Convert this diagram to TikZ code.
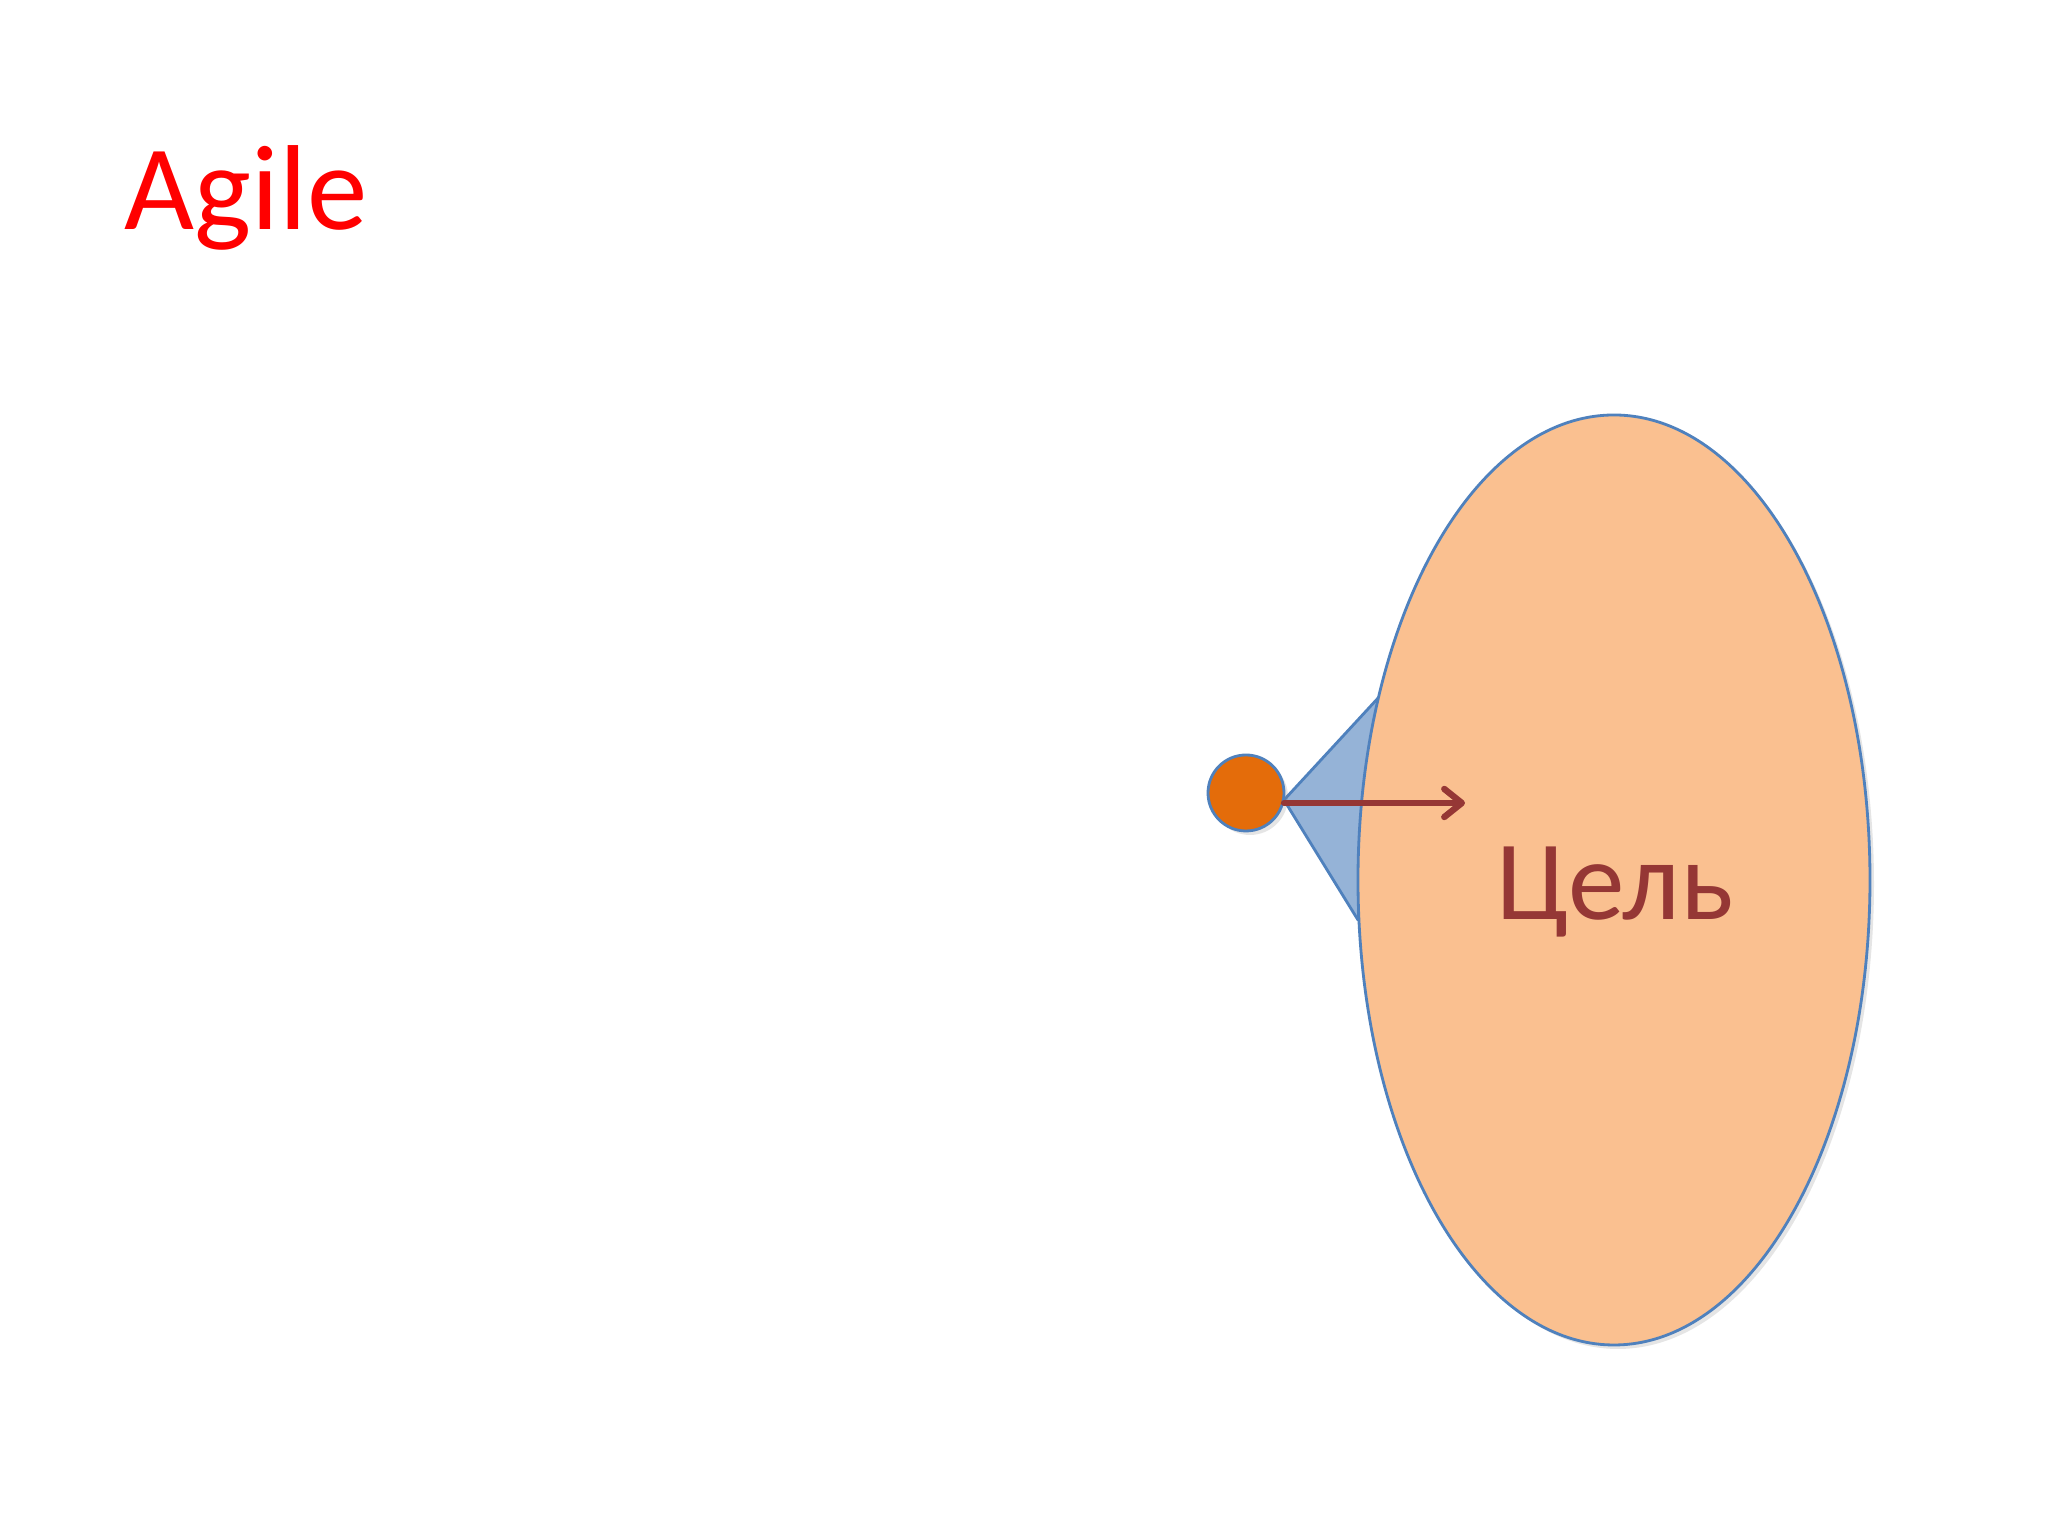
\documentclass[tikz,border=0pt]{standalone}
\usepackage{fontspec}
\setmainfont{Carlito}
\usetikzlibrary{shadows, shapes.geometric, arrows.meta}
\definecolor{goalfill}{HTML}{FAC090}
\definecolor{goalline}{HTML}{4F81BD}
\definecolor{conefill}{HTML}{95B3D7}
\definecolor{dotfill}{HTML}{E46C0A}
\definecolor{goaltext}{HTML}{953735}
\tikzset{
	softshadow/.style={drop shadow={opacity=0.2, shadow xshift=0.04, shadow yshift=-0.04}},
}

\begin{document}
\begin{tikzpicture}
			\useasboundingbox[fill=white] (0, 0) rectangle (20.48, 15.36);
			\node[anchor=base west, inner sep=0, text=red, font=\fontsize{34.4}{40}\selectfont] (title) at (1.24, 13.06) {Agile};
			% cone from the dot towards the goal
			\coordinate (apex) at (12.84, 7.36);
			\coordinate (conetop) at (13.80, 8.40);
			\coordinate (conebot) at (13.58, 6.16);
			\filldraw[fill=conefill, draw=goalline, line width=0.8pt, line join=round] (apex) -- (conetop) -- (conebot) -- cycle;
			\node[ellipse, softshadow, fill=goalfill, draw=goalline, line width=0.8pt, minimum width=5.12cm, minimum height=9.30cm, inner sep=0] (goal) at (16.14, 6.56) {};
			\node[circle, softshadow, fill=dotfill, draw=goalline, line width=0.8pt, minimum size=0.76cm, inner sep=0] (dot) at (12.46, 7.43) {};
			\coordinate (start) at (12.84, 7.33);
			\coordinate (tip) at (14.65, 7.33);
			\draw[goaltext, line width=1.8pt, line cap=round, -{Straight Barb[length=5pt, width=8pt, round]}] (start) -- (tip);
			\node[anchor=base, inner sep=0, text=goaltext, font=\fontsize{32.2}{38}\selectfont] (goalname) at (16.15, 6.16) {Цель};
		\end{tikzpicture}
\end{document}
